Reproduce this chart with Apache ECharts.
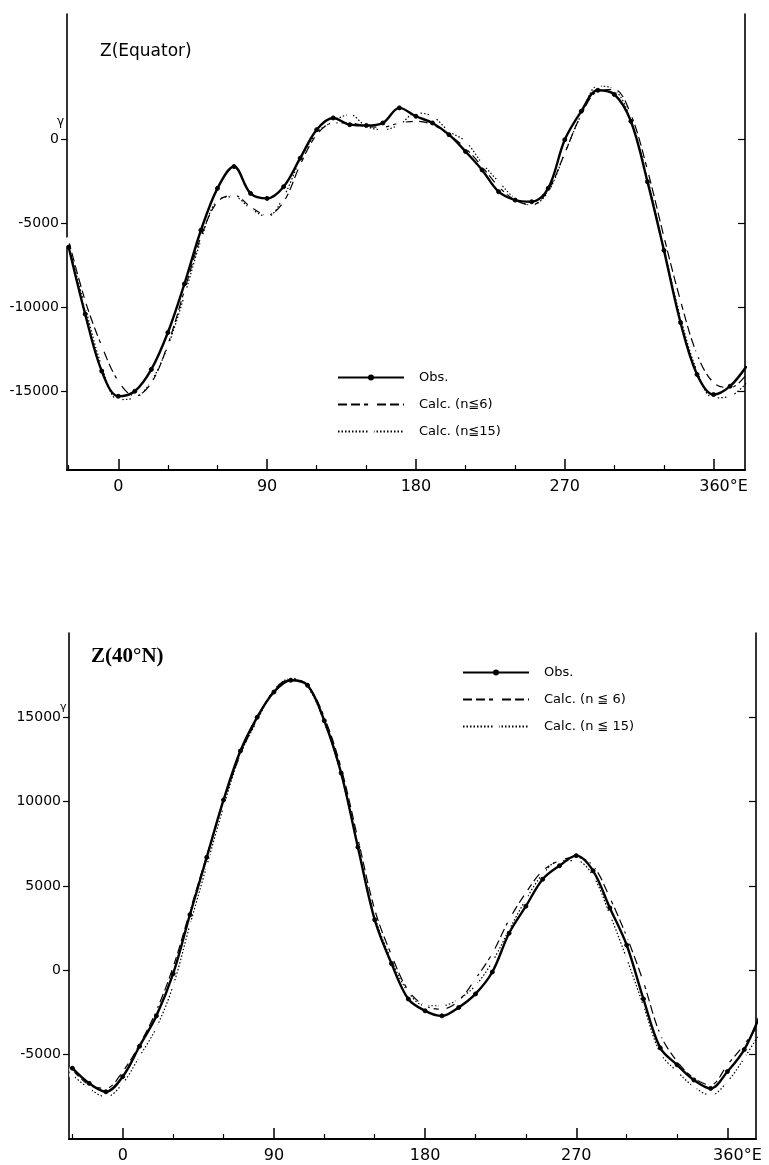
<!DOCTYPE html>
<html>
<head>
<meta charset="utf-8">
<script src="https://cdn.jsdelivr.net/npm/echarts@6/dist/echarts.min.js"></script>
<style>
html,body{margin:0;padding:0;background:#fff;}
#c{width:769px;height:1165px;}
</style>
</head>
<body>
<div id="c"></div>
<script>
// ---- data ----
const lon = [-30,-20,-10,0,10,20,30,40,50,60,70,80,90,100,110,120,130,140,150,160,170,180,190,200,210,220,230,240,250,260,270,280,290,300,310,320,330,340,350,360,370,380];

// Z (Equator)
const eqObs = [-6400,-10400,-13800,-15300,-15000,-13700,-11500,-8600,-5400,-2900,-1600,-3200,-3500,-2800,-1100,600,1300,900,850,1000,1900,1400,1000,300,-700,-1800,-3100,-3600,-3700,-2900,0,1700,2950,2700,1100,-2500,-6600,-10900,-14000,-15200,-14700,-13500];
const eqN6  = [-6000,-9600,-12300,-14400,-15300,-14500,-12200,-9000,-5800,-3700,-3300,-4000,-4500,-3700,-1500,300,1000,1000,800,750,1000,1100,900,300,-500,-1600,-2800,-3600,-3900,-3000,-800,1500,2900,3000,1500,-1800,-5800,-9600,-12800,-14500,-14800,-14000];
const eqN15 = [-6300,-10000,-13500,-15500,-15400,-14400,-12300,-9300,-6000,-3600,-3400,-4100,-4600,-3400,-1200,400,1100,1500,800,600,900,1600,1400,500,-100,-1400,-2500,-3500,-3900,-3100,-800,1500,3200,3000,1200,-2300,-6500,-10600,-13800,-15400,-15300,-14500];

// Z (40°N)
const nObs = [-5800,-6700,-7200,-6300,-4500,-2700,-200,3300,6700,10100,13000,15000,16500,17200,16900,14800,11700,7300,3000,400,-1700,-2400,-2700,-2200,-1400,-100,2200,3800,5400,6200,6800,5900,3700,1500,-1700,-4600,-5600,-6500,-7000,-6000,-4700,-2500];
const nN6  = [-5900,-6800,-7000,-6000,-4400,-2400,200,3500,6800,10000,12800,14900,16600,17300,16900,15000,12000,7800,3600,900,-1200,-2100,-2300,-1800,-500,1000,3000,4600,5900,6500,6700,6200,4300,2000,-700,-3800,-5400,-6400,-6800,-5600,-4400,-3000];
const nN15 = [-6200,-7000,-7500,-6700,-5100,-3400,-900,2700,6200,9700,12800,14800,16600,17300,16800,14700,11600,7300,3200,600,-1300,-2100,-2100,-1700,-900,500,2400,4200,5700,6500,6500,5600,3300,700,-2100,-4900,-6000,-6900,-7400,-6600,-5200,-3600];

const xMajor = [0,90,180,270,360];
const xMinor = [-30,30,60,120,150,210,240,300,330];
const yTicksEq = [0,-5000,-10000,-15000];
const yTicksN = [-5000,0,5000,10000,15000];

const titleEq = 'Z(Equator)';
const title40 = 'Z(40°N)';
const namesEq = ['Obs.','Calc. (n≦6)','Calc. (n≦15)'];
const names40 = ['Obs.','Calc. (n ≦ 6)','Calc. (n ≦ 15)'];

// ---- chart ----
const font = 'DejaVu Sans, Noto Sans CJK JP, sans-serif';
const zip = (xs, ys) => xs.map((x,i)=>[x,ys[i]]);

function xAxisMain(grid, min, max){
  return {
    type:'value', gridIndex:grid, min:min, max:max, position:'bottom',
    axisLine:{show:true, onZero:false, lineStyle:{color:'#000', width:2}},
    axisTick:{show:true, inside:true, length:11, customValues:xMajor, lineStyle:{color:'#000', width:1.5}},
    axisLabel:{show:true, customValues:xMajor, margin:9, color:'#000', fontFamily:font, fontSize:16,
      formatter:v => v===360 ? '{p|}360°E' : String(v),
      rich:{p:{width:20}}},
    splitLine:{show:false}
  };
}
function xAxisMinor(grid, min, max){
  return {
    type:'value', gridIndex:grid, min:min, max:max, position:'bottom',
    axisLine:{show:false, onZero:false},
    axisTick:{show:true, inside:true, length:5, customValues:xMinor, lineStyle:{color:'#000', width:1.2}},
    axisLabel:{show:false}, splitLine:{show:false}
  };
}
function yAxisL(grid, min, max, ticks){
  return {
    type:'value', gridIndex:grid, min:min, max:max, position:'left',
    axisLine:{show:true, onZero:false, lineStyle:{color:'#000', width:1.6}},
    axisTick:{show:true, inside:false, length:6, customValues:ticks, lineStyle:{color:'#000', width:1.2}},
    axisLabel:{show:true, customValues:ticks, margin:8, color:'#000', fontFamily:font, fontSize:14,
      formatter:v => String(v)},
    splitLine:{show:false}
  };
}
function yAxisR(grid, min, max, ticks){
  return {
    type:'value', gridIndex:grid, min:min, max:max, position:'right',
    axisLine:{show:true, onZero:false, lineStyle:{color:'#000', width:1.6}},
    axisTick:{show:true, inside:true, length:7, customValues:ticks, lineStyle:{color:'#000', width:1.2}},
    axisLabel:{show:false}, splitLine:{show:false}
  };
}
function mkSeries(names, xi, yi, obs, n6, n15){
  return [
    {name:names[0], type:'line', xAxisIndex:xi, yAxisIndex:yi, data:zip(lon,obs), smooth:0.35,
      symbol:'circle', symbolSize:4, showSymbol:true,
      itemStyle:{color:'#000', borderColor:'#000', borderWidth:1},
      lineStyle:{color:'#000', width:2.4}, z:5},
    {name:names[1], type:'line', xAxisIndex:xi, yAxisIndex:yi, data:zip(lon,n6), smooth:0.35,
      symbol:'emptyCircle', symbolSize:4.5, showSymbol:true,
      itemStyle:{color:'#fff', borderColor:'#000', borderWidth:1},
      lineStyle:{color:'#000', width:1.2, type:[9,4]}, z:4},
    {name:names[2], type:'line', xAxisIndex:xi, yAxisIndex:yi, data:zip(lon,n15), smooth:0.35,
      symbol:'emptyCircle', symbolSize:4.5, showSymbol:true,
      itemStyle:{color:'#fff', borderColor:'#000', borderWidth:1},
      lineStyle:{color:'#000', width:1.2, type:[1.5,2]}, z:3}
  ];
}
function mkLegend(names, left, top){
  return {
    data:names, orient:'vertical', left:left, top:top, itemWidth:66, itemHeight:5, itemGap:14,
    selectedMode:false,
    textStyle:{color:'#000', fontFamily:font, fontSize:13, padding:[0,0,0,10]}
  };
}

const chart = echarts.init(document.getElementById('c'), null, {renderer:'canvas'});
const option = {
  backgroundColor:'#fff',
  animation:false,
  grid:[
    {left:67, top:14, width:678, height:456},
    {left:69, top:633, width:687, height:506}
  ],
  xAxis:[
    xAxisMain(0,-31,379), xAxisMinor(0,-31,379),
    xAxisMain(1,-32,377), xAxisMinor(1,-32,377)
  ],
  yAxis:[
    yAxisL(0,-19700,7500,yTicksEq), yAxisR(0,-19700,7500,yTicksEq),
    yAxisL(1,-10000,20000,yTicksN), yAxisR(1,-10000,20000,yTicksN)
  ],
  legend:[ mkLegend(namesEq,332,366), mkLegend(names40,457,661) ],
  title:[
    {text:titleEq, left:95, top:38, textStyle:{fontFamily:font, fontSize:17, fontWeight:'normal', color:'#000'}},
    {text:title40, left:86, top:641, textStyle:{fontFamily:'Liberation Serif, DejaVu Serif, serif', fontSize:21, fontWeight:'bold', color:'#000'}}
  ],
  series:[].concat(
    mkSeries(namesEq,0,0,eqObs,eqN6,eqN15),
    mkSeries(names40,2,2,nObs,nN6,nN15)
  )
};
chart.setOption(option);

// unit labels (gamma) beside the tick labels
const p0 = chart.convertToPixel({yAxisIndex:0}, 0);
const p15 = chart.convertToPixel({yAxisIndex:2}, 15000);
chart.setOption({
  graphic:[
    {type:'text', x:57, y:p0-24, style:{text:'γ', font:'12px DejaVu Sans', fill:'#000'}},
    {type:'text', x:60, y:p15-16, style:{text:'γ', font:'11px DejaVu Sans', fill:'#000'}}
  ]
});
</script>
</body>
</html>
